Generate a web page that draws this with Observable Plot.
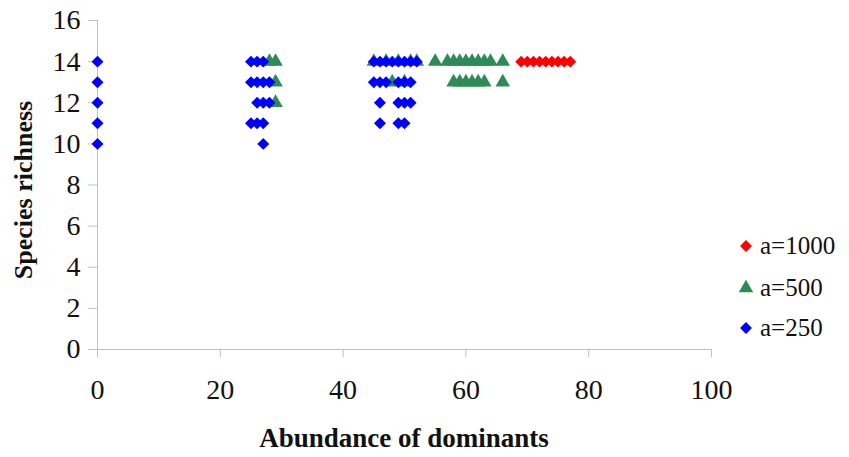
<!DOCTYPE html>
<html>
<head>
<meta charset="utf-8">
<script src="https://cdn.jsdelivr.net/npm/d3@7"></script>
<script src="https://cdn.jsdelivr.net/npm/@observablehq/plot@0.6"></script>
<style>
  html, body { margin: 0; padding: 0; background: #fff; }
  #wrap { position: relative; width: 849px; height: 457px; }
  #wrap svg text, #wrap svg { font-family: "Times New Roman", "Liberation Serif", "DejaVu Serif", serif !important; }
  .legend { position: absolute; left: 738px; font-family: "Times New Roman", "Liberation Serif", "DejaVu Serif", serif; font-size: 25px; color: #111; display: flex; align-items: center; }
  .legend svg { margin-right: 6px; }
</style>
</head>
<body>
<div id="wrap"></div>
<script>
// Series a=1000 (red diamonds)
const a1000X = [69, 70, 71, 72, 73, 74, 75, 76, 77];
const a1000Y = [14, 14, 14, 14, 14, 14, 14, 14, 14];

// Series a=500 (green triangles)
const a500X = [28, 29, 29, 29, 45, 47, 49, 51, 52, 48, 50,
               55, 57, 58, 59, 60, 61, 62, 63, 64, 66,
               58, 59, 60, 61, 62, 63, 66];
const a500Y = [14, 14, 13, 12, 14, 14, 14, 14, 14, 13, 13,
               14, 14, 14, 14, 14, 14, 14, 14, 14, 14,
               13, 13, 13, 13, 13, 13, 13];

// Series a=250 (blue diamonds)
const a250X = [0, 0, 0, 0, 0,
               25, 26, 27, 25, 26, 27, 28, 26, 27, 28, 25, 26, 27, 27,
               45, 46, 47, 48, 49, 50, 51, 52,
               45, 46, 47, 49, 50, 51,
               46, 49, 50, 51,
               46, 49, 50];
const a250Y = [14, 13, 12, 11, 10,
               14, 14, 14, 13, 13, 13, 13, 12, 12, 12, 11, 11, 11, 10,
               14, 14, 14, 14, 14, 14, 14, 14,
               13, 13, 13, 13, 13, 13,
               12, 12, 12, 12,
               11, 11, 11];

const xTicks = [0, 20, 40, 60, 80, 100];
const yTicks = [0, 2, 4, 6, 8, 10, 12, 14, 16];

const series = [
  {name: "a=1000", xs: a1000X, ys: a1000Y, color: "#ff0000", symbol: "diamond2"},
  {name: "a=500", xs: a500X, ys: a500Y, color: "#2e8b57", symbol: "triangle"},
  {name: "a=250", xs: a250X, ys: a250Y, color: "#0000ff", symbol: "diamond2"}
];

const font = "Times New Roman, Liberation Serif, serif";
const axisColor = "#c0c0c0";

const dotMarks = series.map(s =>
  Plot.dot(s.xs.map((x, i) => ({x, y: s.ys[i]})), {
    x: "x", y: "y", symbol: () => s.symbol, fill: s.color, stroke: "none", r: 5.4
  })
);

const chart = Plot.plot({
  width: 849,
  height: 457,
  marginLeft: 97,
  marginRight: 138,
  marginTop: 20,
  marginBottom: 108,
  style: {fontFamily: font, fontSize: "28px", color: "#111", background: "#fff"},
  symbol: {type: "identity"},
  x: {domain: [0, 100]},
  y: {domain: [0, 16]},
  marks: [
    Plot.ruleX([0], {stroke: axisColor, y1: 0, y2: 16}),
    Plot.ruleY([0], {stroke: axisColor, x1: 0, x2: 100}),
    Plot.axisY({ticks: yTicks, tickSize: 9, tickPadding: 8, stroke: axisColor, label: null, fontSize: 28, fontFamily: font, fill: "#111"}),
    Plot.axisX({ticks: xTicks, tickSize: 8, tickPadding: 22, stroke: axisColor, label: null, fontSize: 28, fontFamily: font, fill: "#111"}),
    ...dotMarks
  ]
});

// Axis titles
const svg = d3.select(chart);
svg.append("text")
  .attr("x", 404).attr("y", 447)
  .attr("text-anchor", "middle")
  .attr("font-family", font).attr("font-weight", "bold").attr("font-size", 27)
  .attr("fill", "#111")
  .text("Abundance of dominants");
svg.append("text")
  .attr("transform", "translate(32,190) rotate(-90)")
  .attr("text-anchor", "middle")
  .attr("font-family", font).attr("font-weight", "bold").attr("font-size", 26)
  .attr("fill", "#111")
  .text("Species richness");

const wrap = document.getElementById("wrap");
wrap.appendChild(chart);

// Legend
const legendTops = [232, 274, 314];
series.forEach((s, i) => {
  const div = document.createElement("div");
  div.className = "legend";
  div.style.top = legendTops[i] + "px";
  const sym = d3.symbol(s.symbol === "triangle" ? d3.symbolTriangle : d3.symbolDiamond2, 90)();
  div.innerHTML = `<svg width="16" height="16" viewBox="-8 -8 16 16"><path d="${sym}" fill="${s.color}"/></svg><span>${s.name}</span>`;
  wrap.appendChild(div);
});
</script>
</body>
</html>
